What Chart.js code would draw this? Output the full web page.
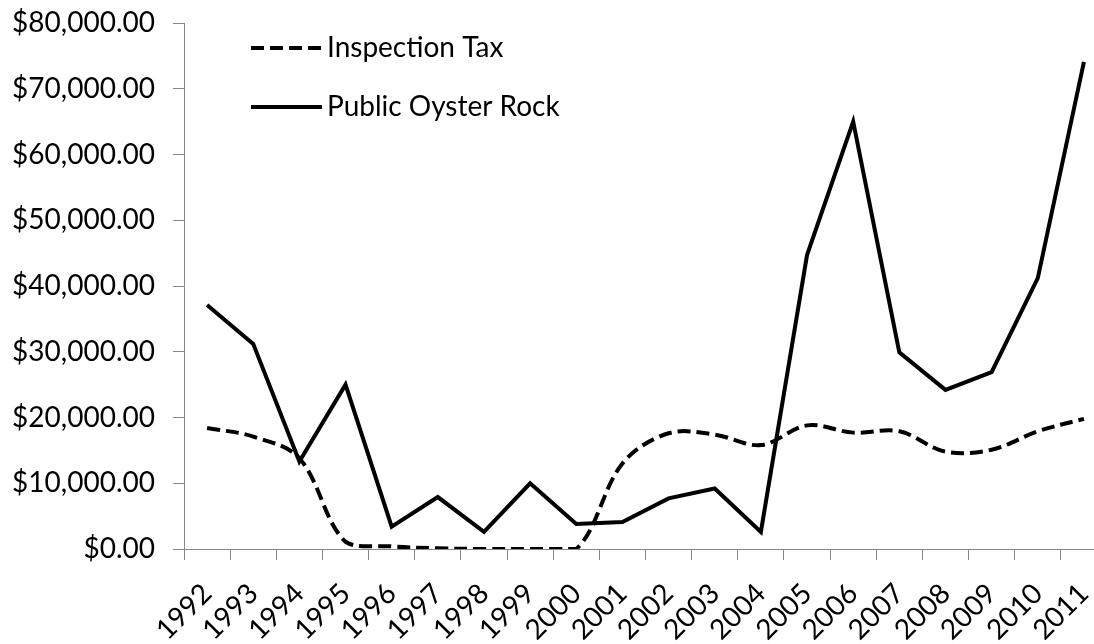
<!DOCTYPE html>
<html>
<head>
<meta charset="utf-8">
<script src="https://cdn.jsdelivr.net/npm/chart.js@4.4.1/dist/chart.umd.min.js"></script>
<style>
  html, body { margin: 0; padding: 0; background: #ffffff; overflow: hidden; }
  #wrap { position: absolute; left: 0; top: 0; width: 1112px; height: 644px; }
</style>
</head>
<body>
<div id="wrap"><canvas id="c"></canvas></div>
<script>
const years = ['1992','1993','1994','1995','1996','1997','1998','1999','2000','2001',
               '2002','2003','2004','2005','2006','2007','2008','2009','2010','2011'];
const inspectionTax = [18400, 17100, 13800, 1100, 400, 100, 0, 0, 0, 13000,
                       17600, 17400, 15800, 18800, 17700, 17900, 14800, 15100, 17900, 19800];
const publicOysterRock = [37100, 31200, 13300, 25000, 3400, 7900, 2600, 10000, 3800, 4100,
                          7700, 9200, 2600, 44700, 65000, 29900, 24200, 26900, 41200, 74100];
const yTicks = [0, 10000, 20000, 30000, 40000, 50000, 60000, 70000, 80000];
const seriesNames = ['Inspection Tax', 'Public Oyster Rock'];

const FONT = 'Lato, Carlito, "Open Sans", sans-serif';
const AXIS_GRAY = '#888888';

function money(v) {
  return '$' + Number(v).toLocaleString('en-US', { minimumFractionDigits: 2, maximumFractionDigits: 2 });
}

const insideLegend = {
  id: 'insideLegend',
  afterDraw(chart) {
    const ctx = chart.ctx;
    const rows = [48, 107];
    ctx.save();
    chart.data.datasets.forEach((ds, i) => {
      const y = rows[i];
      ctx.beginPath();
      ctx.strokeStyle = ds.borderColor;
      ctx.lineWidth = ds.borderWidth;
      ctx.setLineDash(ds.borderDash || []);
      ctx.moveTo(251, y);
      ctx.lineTo(322, y);
      ctx.stroke();
      ctx.setLineDash([]);
      ctx.fillStyle = '#000000';
      ctx.font = '28px ' + FONT;
      ctx.textAlign = 'left';
      ctx.textBaseline = 'middle';
      ctx.fillText(ds.label, 327, y);
    });
    ctx.restore();
  }
};

new Chart(document.getElementById('c'), {
  type: 'line',
  data: {
    labels: years,
    datasets: [
      {
        label: seriesNames[0],
        data: inspectionTax,
        borderColor: '#000000',
        borderWidth: 4,
        borderDash: [13, 6],
        tension: 0.35,
        pointRadius: 0,
        fill: false
      },
      {
        label: seriesNames[1],
        data: publicOysterRock,
        borderColor: '#000000',
        borderWidth: 4,
        tension: 0,
        pointRadius: 0,
        fill: false
      }
    ]
  },
  options: {
    responsive: true,
    maintainAspectRatio: false,
    animation: false,
    layout: { padding: { top: 23, right: 5, bottom: 0, left: 0 } },
    plugins: {
      legend: { display: false },
      tooltip: { enabled: false }
    },
    scales: {
      x: {
        type: 'category',
        offset: true,
        grid: {
          offset: true,
          display: true,
          drawOnChartArea: false,
          drawTicks: true,
          tickLength: 11,
          color: AXIS_GRAY,
          lineWidth: 1
        },
        border: { display: true, color: AXIS_GRAY, width: 1 },
        ticks: {
          autoSkip: false,
          minRotation: 45,
          maxRotation: 45,
          padding: 17,
          color: '#000000',
          font: { family: FONT, size: 28 }
        },
        afterFit(scale) {
          scale.height = 95;
          scale.paddingLeft = 0;
          scale.paddingRight = 0;
        }
      },
      y: {
        min: 0,
        max: 80000,
        afterBuildTicks(scale) { scale.ticks = yTicks.map(v => ({ value: v })); },
        grid: {
          display: true,
          drawOnChartArea: false,
          drawTicks: true,
          tickLength: 11,
          color: AXIS_GRAY,
          lineWidth: 1
        },
        border: { display: true, color: AXIS_GRAY, width: 1 },
        ticks: {
          padding: 18,
          color: '#000000',
          font: { family: FONT, size: 28 },
          callback: (v) => money(v)
        },
        afterFit(scale) {
          scale.width = 184;
          scale.paddingTop = 0;
          scale.paddingBottom = 0;
        }
      }
    }
  },
  plugins: [insideLegend]
});
</script>
</body>
</html>
